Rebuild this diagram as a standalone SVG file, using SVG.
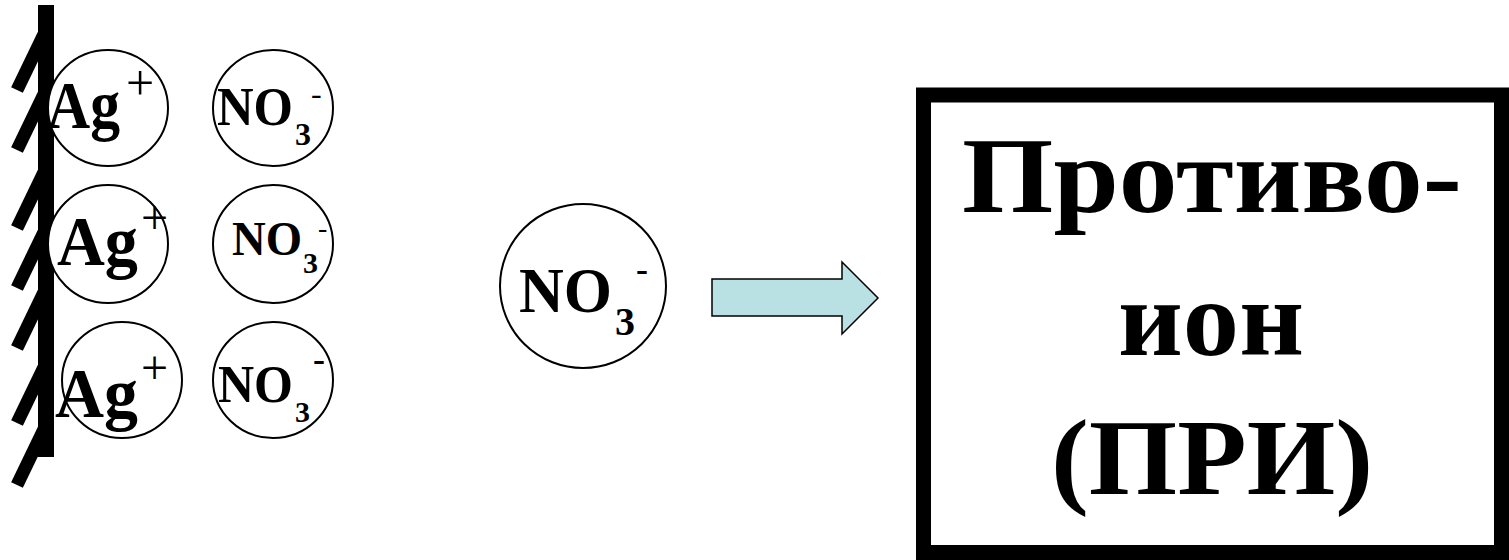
<svg xmlns="http://www.w3.org/2000/svg" width="1509" height="560" viewBox="0 0 1509 560">
<style>
.ion{fill:#fff;stroke:#000;stroke-width:2}
.t{font-family:"Liberation Serif","Times New Roman",serif;font-weight:bold;fill:#000}
.r{font-family:"Liberation Serif","Times New Roman",serif;font-weight:normal;fill:#000}
.hatch{stroke:#000;stroke-width:13;stroke-linecap:butt}
</style>
<rect width="1509" height="560" fill="#fff"/>
<g id="electrode">
<line class="hatch" x1="17" y1="90" x2="44" y2="34"/>
<line class="hatch" x1="17" y1="150" x2="44" y2="94"/>
<line class="hatch" x1="17" y1="228" x2="44" y2="172"/>
<line class="hatch" x1="17" y1="288" x2="44" y2="232"/>
<line class="hatch" x1="17" y1="348" x2="44" y2="292"/>
<line class="hatch" x1="17" y1="423" x2="44" y2="367"/>
<line class="hatch" x1="17" y1="485" x2="44" y2="429"/>
<rect x="38" y="5" width="16" height="452" fill="#000"/>
</g>
<g id="ag1">
<ellipse class="ion" cx="108" cy="108" rx="60" ry="58"/>
<text class="t" x="47" y="128" font-size="67" textLength="73" lengthAdjust="spacingAndGlyphs">Ag</text>
<text class="r" x="126" y="100" font-size="50">+</text>
</g>
<g id="no3a">
<ellipse class="ion" cx="273" cy="108" rx="60" ry="58"/>
<text class="t" x="217" y="125" font-size="54" textLength="76" lengthAdjust="spacingAndGlyphs">NO</text>
<text class="t" x="295" y="145" font-size="32">3</text>
<text class="r" x="311" y="104" font-size="32">-</text>
</g>
<g id="ag2">
<ellipse class="ion" cx="108" cy="244" rx="60" ry="59"/>
<text class="t" x="57" y="265" font-size="70" textLength="81" lengthAdjust="spacingAndGlyphs">Ag</text>
<text class="r" x="141" y="234" font-size="48">+</text>
</g>
<g id="no3b">
<ellipse class="ion" cx="273" cy="244" rx="60" ry="59"/>
<text class="t" x="232" y="255" font-size="48" textLength="70" lengthAdjust="spacingAndGlyphs">NO</text>
<text class="t" x="303" y="273" font-size="30">3</text>
<text class="r" x="318" y="237" font-size="28">-</text>
</g>
<g id="ag3">
<ellipse class="ion" cx="122" cy="380" rx="60" ry="58"/>
<text class="t" x="55" y="417" font-size="70" textLength="83" lengthAdjust="spacingAndGlyphs">Ag</text>
<text class="r" x="141" y="384" font-size="48">+</text>
</g>
<g id="no3c">
<ellipse class="ion" cx="273" cy="380" rx="60" ry="58"/>
<text class="t" x="218" y="402" font-size="53" textLength="75" lengthAdjust="spacingAndGlyphs">NO</text>
<text class="t" x="295" y="422" font-size="30">3</text>
<text class="t" x="313" y="371" font-size="36">-</text>
</g>
<g id="no3-free">
<ellipse class="ion" cx="583" cy="286" rx="83" ry="82"/>
<text class="t" x="519" y="312" font-size="64" textLength="93" lengthAdjust="spacingAndGlyphs">NO</text>
<text class="t" x="615" y="335" font-size="40">3</text>
<text class="t" x="636" y="281" font-size="36">-</text>
</g>
<g id="connectors">
<path d="M712,279 L842,279 L842,262 L878,298 L842,334 L842,316 L712,316 Z" fill="#B9E0E3" stroke="#000" stroke-width="1.5" stroke-linejoin="miter"/>
</g>
<g id="counterion-box">
<rect x="923.5" y="95" width="578" height="457.5" fill="#fff" stroke="#000" stroke-width="15"/>
<text class="t" x="1212" y="212" font-size="108" text-anchor="middle" textLength="500" lengthAdjust="spacingAndGlyphs">Противо-</text>
<text class="t" x="1211" y="355" font-size="108" text-anchor="middle" textLength="186" lengthAdjust="spacingAndGlyphs">ион</text>
<text class="t" x="1212" y="494" font-size="108" text-anchor="middle" textLength="322" lengthAdjust="spacingAndGlyphs">(ПРИ)</text>
</g>
</svg>
